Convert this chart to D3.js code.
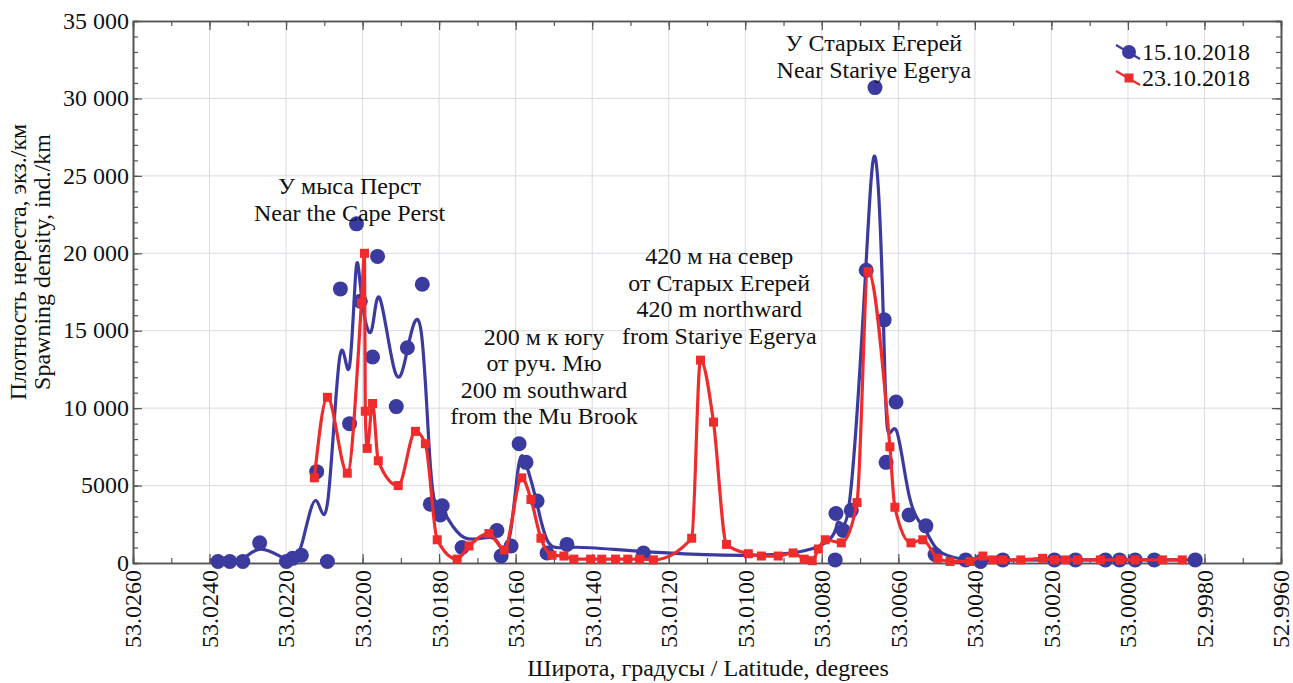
<!DOCTYPE html>
<html>
<head>
<meta charset="UTF-8">
<script src="https://d3js.org/d3.v7.min.js"></script>
</head>
<body style="margin:0">
<script>
    // 15.10.2018 survey (latitude, individuals per km)
    const lat1510 = [
        53.02378, 53.02347, 53.02313, 53.02269, 53.02199, 53.02183, 53.02160, 53.02120,
        53.02092, 53.02058, 53.02034, 53.02016, 53.02006, 53.01974, 53.01961, 53.01912,
        53.01883, 53.01844, 53.01823, 53.01797, 53.01792, 53.01740, 53.01649, 53.01638,
        53.01612, 53.01591, 53.01573, 53.01544, 53.01518, 53.01466, 53.01266, 53.00765,
        53.00763, 53.00744, 53.00723, 53.00684, 53.00661, 53.00637, 53.00632, 53.00606,
        53.00572, 53.00528, 53.00504, 53.00424, 53.00385, 53.00327, 53.00192, 53.00137,
        53.00059, 53.00022, 52.99981, 52.99931, 52.99824
    ];
    const dens1510 = [
        100, 100, 100, 1300, 100, 300, 500, 5900,
        100, 17700, 9000, 21900, 16900, 13300, 19800, 10100,
        13900, 18000, 3800, 3100, 3700, 1000, 2100, 450,
        1100, 7700, 6500, 4000, 650, 1200, 650, 200,
        3200, 2100, 3400, 18900, 30700, 15700, 6500, 10400,
        3100, 2400, 550, 200, 100, 200, 200, 200,
        200, 200, 200, 200, 200
    ];

    // 23.10.2018 survey
    const lat2310 = [
        53.02126, 53.02092, 53.02040, 53.02003, 53.01995, 53.01993, 53.01988, 53.01974,
        53.01959, 53.01907, 53.01862, 53.01836, 53.01805, 53.01753, 53.01722, 53.01670,
        53.01630, 53.01584, 53.01560, 53.01534, 53.01505, 53.01474, 53.01448, 53.01404,
        53.01375, 53.01339, 53.01307, 53.01276, 53.01240, 53.01140, 53.01117, 53.01083,
        53.01049, 53.00992, 53.00958, 53.00914, 53.00875, 53.00846, 53.00825, 53.00809,
        53.00791, 53.00749, 53.00708, 53.00679, 53.00622, 53.00609, 53.00567, 53.00536,
        53.00497, 53.00465, 53.00413, 53.00379, 53.00353, 53.00327, 53.00280, 53.00223,
        53.00192, 53.00163, 53.00132, 53.00072, 53.00020, 52.99981, 52.99910, 52.99858
    ];
    const dens2310 = [
        5500, 10700, 5800, 16800, 20000, 9800, 7400, 10300,
        6600, 5000, 8500, 7700, 1500, 250, 1100, 1900,
        850, 5500, 4100, 1600, 500, 450, 250, 250,
        250, 250, 250, 250, 200, 1600, 13100, 9100,
        1200, 600, 450, 450, 650, 250, 150, 900,
        1500, 1300, 3900, 18800, 7500, 3600, 1300, 1500,
        300, 100, 100, 450, 200, 200, 200, 300,
        200, 200, 200, 200, 200, 200, 200, 200
    ];

    const seriesNames = ["15.10.2018", "23.10.2018"];

    const xTicks = d3.range(0, 16).map(i => 53.026 - i * 0.002);
    const xMinorTicks = d3.range(0, 31).map(i => 53.026 - i * 0.001);
    const yTicks = [0, 5000, 10000, 15000, 20000, 25000, 30000, 35000];
    const yTickLabels = ["0", "5000", "10 000", "15 000", "20 000", "25 000", "30 000", "35 000"];
    const yMinorTicks = d3.range(0, 36).map(i => i * 1000);

    const yTitle = ["Плотность нереста, экз./км", "Spawning density, ind./km"];
    const xTitle = "Широта, градусы / Latitude, degrees";

    // notes: anchor latitude, anchor density, text lines
    const notes = [
        { lat: 53.02034, val: 23800, lines: ["У мыса Перст", "Near the Cape Perst"] },
        { lat: 53.01526, val: 14100, lines: ["200 м к югу", "от руч. Мю", "200 m southward", "from the Mu Brook"] },
        { lat: 53.01068, val: 19300, lines: ["420 м на север", "от Старых Егерей", "420 m northward", "from Stariye Egerya"] },
        { lat: 53.00664, val: 33050, lines: ["У Старых Егерей", "Near Stariye Egerya"] }
    ];

    const w = 1293, h = 683;
    const padL = 133, padR = 1281, padT = 21, padB = 563;
    const blue = "#3b3b9f", red = "#ef2b2b";
    const serif = "Liberation Serif";

    const svg = d3.select("body").append("svg")
        .attr("width", w)
        .attr("height", h);

    const x = d3.scaleLinear().domain([53.026, 52.996]).range([padL, padR]);
    const y = d3.scaleLinear().domain([0, 35000]).range([padB, padT]);

    // text helper: serif face set both as attribute and inline style
    const label = (sel, size) => sel
        .attr("font-family", serif)
        .style("font-family", serif)
        .style("font-size", size + "px")
        .style("fill", "#111");

    // grid
    const grid = svg.append("g").attr("stroke", "#dadae3").attr("stroke-width", 1);
    grid.selectAll(".gx").data(xTicks.slice(1, -1)).enter().append("line")
        .attr("x1", d => x(d)).attr("x2", d => x(d))
        .attr("y1", padT).attr("y2", padB);
    grid.selectAll(".gy").data(yTicks.slice(1, -1)).enter().append("line")
        .attr("x1", padL).attr("x2", padR)
        .attr("y1", d => y(d)).attr("y2", d => y(d));

    // axes: ticks point inward on all four sides
    const axisColor = "#555";
    const styleAxis = g => {
        g.attr("font-family", serif).attr("font-size", 24);
        g.select(".domain").attr("stroke", axisColor).attr("stroke-width", 1.6);
        g.selectAll(".tick line").attr("stroke", axisColor).attr("stroke-width", 1.2);
    };

    const xAxis = svg.append("g")
        .attr("transform", `translate(0,${padB})`)
        .call(d3.axisBottom(x).tickValues(xTicks).tickSize(-9).tickSizeOuter(0).tickFormat(d3.format(".4f")))
        .call(styleAxis);
    xAxis.selectAll(".tick text")
        .call(label, 24)
        .attr("text-anchor", "end")
        .attr("transform", "rotate(-90)")
        .attr("x", -7)
        .attr("y", 0)
        .attr("dy", "0.33em");
    svg.append("g")
        .attr("transform", `translate(0,${padB})`)
        .call(d3.axisBottom(x).tickValues(xMinorTicks).tickSize(-5).tickFormat(""))
        .call(styleAxis);

    const yAxis = svg.append("g")
        .attr("transform", `translate(${padL},0)`)
        .call(d3.axisLeft(y).tickValues(yTicks).tickSize(-9).tickSizeOuter(0)
            .tickFormat((d, i) => yTickLabels[i]))
        .call(styleAxis);
    yAxis.selectAll(".tick text")
        .call(label, 24)
        .attr("x", -4)
        .attr("dy", "0.3em");
    svg.append("g")
        .attr("transform", `translate(${padL},0)`)
        .call(d3.axisLeft(y).tickValues(yMinorTicks).tickSize(-5).tickFormat(""))
        .call(styleAxis);

    // mirrored top and right axes
    svg.append("g").attr("transform", `translate(0,${padT})`)
        .call(d3.axisTop(x).tickValues(xTicks).tickSize(-9).tickSizeOuter(0).tickFormat(""))
        .call(styleAxis);
    svg.append("g").attr("transform", `translate(0,${padT})`)
        .call(d3.axisTop(x).tickValues(xMinorTicks).tickSize(-5).tickFormat(""))
        .call(styleAxis);
    svg.append("g").attr("transform", `translate(${padR},0)`)
        .call(d3.axisRight(y).tickValues(yTicks).tickSize(-9).tickSizeOuter(0).tickFormat(""))
        .call(styleAxis);
    svg.append("g").attr("transform", `translate(${padR},0)`)
        .call(d3.axisRight(y).tickValues(yMinorTicks).tickSize(-5).tickFormat(""))
        .call(styleAxis);

    // series
    const blueData = lat1510.map((d, i) => [d, dens1510[i]]);
    const redData = lat2310.map((d, i) => [d, dens2310[i]]);

    const blueLine = d3.line().x(d => x(d[0])).y(d => y(d[1])).curve(d3.curveBasis);
    const redLine = d3.line().x(d => x(d[0])).y(d => y(d[1])).curve(d3.curveMonotoneX);

    svg.append("path").datum(blueData)
        .attr("d", blueLine)
        .attr("fill", "none").attr("stroke", blue).attr("stroke-width", 3.2)
        .attr("stroke-linejoin", "round");
    svg.append("g").selectAll("circle").data(blueData).enter().append("circle")
        .attr("cx", d => x(d[0])).attr("cy", d => y(d[1])).attr("r", 7.5)
        .attr("fill", blue);

    svg.append("path").datum(redData)
        .attr("d", redLine)
        .attr("fill", "none").attr("stroke", red).attr("stroke-width", 3.2)
        .attr("stroke-linejoin", "round");
    const sq = 9;
    svg.append("g").selectAll("rect").data(redData).enter().append("rect")
        .attr("x", d => x(d[0]) - sq / 2).attr("y", d => y(d[1]) - sq / 2)
        .attr("width", sq).attr("height", sq)
        .attr("fill", red);

    // annotations
    notes.forEach(n => {
        const t = svg.append("text")
            .attr("text-anchor", "middle")
            .attr("x", x(n.lat))
            .attr("y", y(n.val))
            .call(label, 24);
        n.lines.forEach((line, i) => {
            t.append("tspan").attr("x", x(n.lat)).attr("dy", i === 0 ? 0 : 26.5).text(line);
        });
    });

    // legend
    const legend = svg.append("g").attr("transform", "translate(1129,52)");
    [blue, red].forEach((c, i) => {
        const g = legend.append("g").attr("transform", `translate(0,${i * 26})`);
        g.append("line").attr("x1", -13).attr("y1", -7).attr("x2", 11).attr("y2", 7)
            .attr("stroke", c).attr("stroke-width", 2.2);
        if (i === 0) {
            g.append("circle").attr("r", 7).attr("fill", c);
        } else {
            g.append("rect").attr("x", -4.5).attr("y", -4.5).attr("width", 9).attr("height", 9).attr("fill", c);
        }
        g.append("text")
            .attr("x", 13).attr("y", 8)
            .call(label, 24)
            .text(seriesNames[i]);
    });

    // axis titles
    svg.append("text")
        .attr("x", 708).attr("y", 676)
        .attr("text-anchor", "middle")
        .call(label, 24)
        .text(xTitle);

    yTitle.forEach((t, i) => {
        svg.append("text")
            .attr("transform", `translate(${26 + i * 24},262) rotate(-90)`)
            .attr("text-anchor", "middle")
            .call(label, 24)
            .text(t);
    });
</script>
</body>
</html>
